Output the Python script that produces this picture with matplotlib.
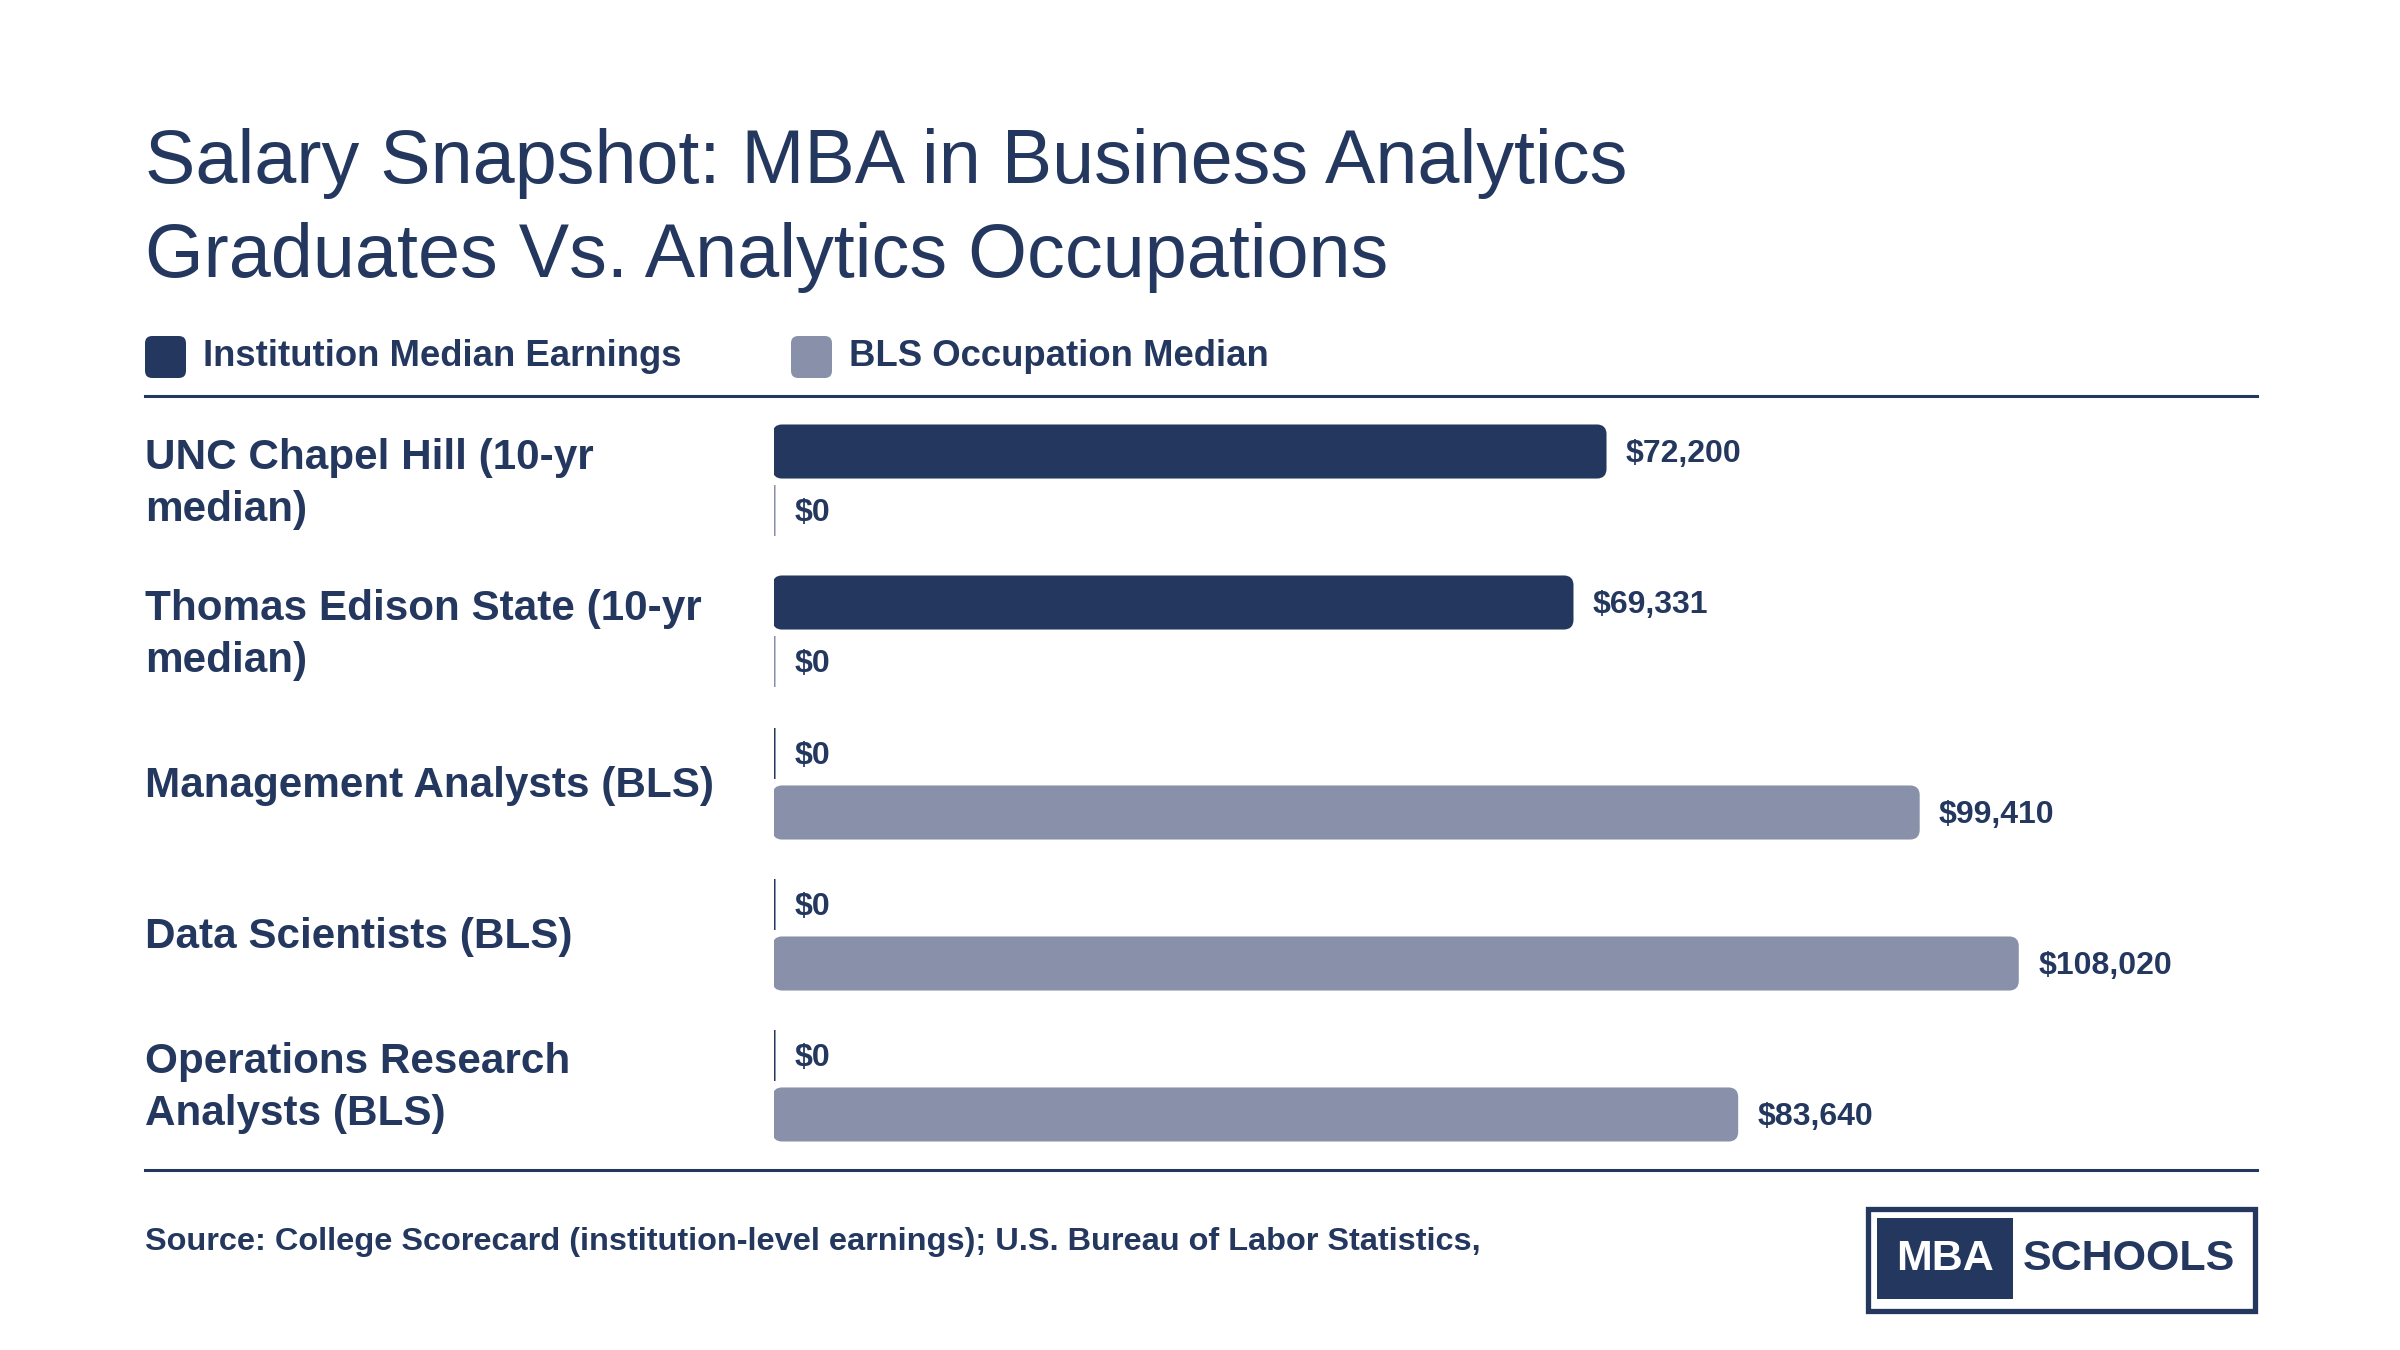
import matplotlib
matplotlib.use("Agg")
import matplotlib.pyplot as plt
from matplotlib import font_manager
from matplotlib.patches import FancyBboxPatch, Rectangle
from matplotlib.lines import Line2D

# data
categories = ["UNC Chapel Hill (10-yr\nmedian)",
              "Thomas Edison State (10-yr\nmedian)",
              "Management Analysts (BLS)",
              "Data Scientists (BLS)",
              "Operations Research\nAnalysts (BLS)"]
institution = [72200, 69331, 0, 0, 0]
bls = [0, 0, 99410, 108020, 83640]
series_names = ["Institution Median Earnings", "BLS Occupation Median"]

NAVY = "#24385f"
GREY = "#8891a9"
W, H = 2400, 1350

plt.rcParams['font.family'] = ['Liberation Sans', 'DejaVu Sans']

# narrow font for the logo if present
installed = {f.name for f in font_manager.fontManager.ttflist}
if "Liberation Sans Narrow" in installed:
    logo_family, logo_size = ["Liberation Sans Narrow", "DejaVu Sans"], 37
else:
    logo_family, logo_size = ["Liberation Sans", "DejaVu Sans"], 31

fig = plt.figure(figsize=(24, 13.5), dpi=100)
fig.patch.set_facecolor("white")


def fx(x):
    return x / W


def fy(y):
    return 1 - y / H


# title
fig.text(fx(145), fy(183), "Salary Snapshot: MBA in Business Analytics",
         fontsize=54.4, color=NAVY, va="baseline", ha="left")
fig.text(fx(145), fy(277), "Graduates Vs. Analytics Occupations",
         fontsize=54.4, color=NAVY, va="baseline", ha="left")

# legend
for x0, name, col in [(145, series_names[0], NAVY), (791, series_names[1], GREY)]:
    sq = FancyBboxPatch((fx(x0), fy(378)), 41 / W, 42 / H,
                        boxstyle="round,pad=0,rounding_size=0.003",
                        mutation_aspect=W / H,
                        transform=fig.transFigure, facecolor=col, edgecolor="none")
    fig.add_artist(sq)
    fig.text(fx(x0 + 58), fy(366), name, fontsize=26.3, fontweight="bold",
             color=NAVY, va="baseline", ha="left")

# separator lines
fig.add_artist(Line2D([fx(145), fx(2257)], [fy(396), fy(396)], color=NAVY, lw=2.2))
fig.add_artist(Line2D([fx(145), fx(2257)], [fy(1170), fy(1170)], color=NAVY, lw=2.2))

# bar chart axes
ax_left, ax_right, ax_top, ax_bot = 774, 2257, 396, 1170
ax = fig.add_axes([fx(ax_left), fy(ax_bot), (ax_right - ax_left) / W, (ax_bot - ax_top) / H])
ax.set_xlim(0, 128850)
ax.set_ylim(4.563, -0.563)
ax.axis("off")

ypos = list(range(len(categories)))
bh = 51 / 151
off = 29.5 / 151
b1 = ax.barh([y - off for y in ypos], institution, height=bh, color=NAVY)
b2 = ax.barh([y + off for y in ypos], bls, height=bh, color=GREY)

# px per data unit
xpx = (ax_right - ax_left) / 128850.0
ypx = (ax_bot - ax_top) / 5.126
r_px = 8
for bars, vals, col in [(b1, institution, NAVY), (b2, bls, GREY)]:
    for patch, v in zip(bars.patches, vals):
        x0, y0 = patch.get_x(), patch.get_y()
        w, h = patch.get_width(), patch.get_height()
        patch.set_visible(False)
        r = min(r_px / xpx, w / 2)
        rb = FancyBboxPatch((x0, y0), w, h,
                            boxstyle=f"round,pad=0,rounding_size={r}",
                            mutation_aspect=xpx / ypx,
                            facecolor=col, edgecolor=col, linewidth=2.2,
                            joinstyle="round")
        ax.add_patch(rb)
        ax.annotate(f"${v:,.0f}", (v, y0 + h / 2), xytext=(15, -1.5),
                    textcoords="offset points", va="center", ha="left",
                    fontsize=23, fontweight="bold", color=NAVY)

# category labels
for y, lab in zip(ypos, categories):
    fig.text(fx(145), fy(ax_top + (y + 0.563) * ypx + 3), lab, fontsize=30.4,
             fontweight="bold", color=NAVY, va="center", ha="left", linespacing=1.38)

# source
fig.text(fx(145), fy(1250),
         "Source: College Scorecard (institution-level earnings); U.S. Bureau of Labor Statistics,",
         fontsize=23.4, fontweight="bold", color=NAVY, va="baseline", ha="left")

# logo
fig.add_artist(Rectangle((fx(1868), fy(1311)), (2255 - 1868) / W, (1311 - 1209) / H,
                         transform=fig.transFigure, facecolor="white",
                         edgecolor=NAVY, linewidth=3.8))
fig.add_artist(Rectangle((fx(1877), fy(1299)), (2013 - 1877) / W, (1299 - 1218) / H,
                         transform=fig.transFigure, facecolor=NAVY, edgecolor="none"))
fig.text(fx(1945), fy(1259), "MBA", fontsize=logo_size, fontweight="bold", color="white",
         va="center", ha="center", family=logo_family)
fig.text(fx(2129), fy(1259), "SCHOOLS", fontsize=logo_size, fontweight="bold", color=NAVY,
         va="center", ha="center", family=logo_family)

fig.savefig("out.png", dpi=100, facecolor="white")
